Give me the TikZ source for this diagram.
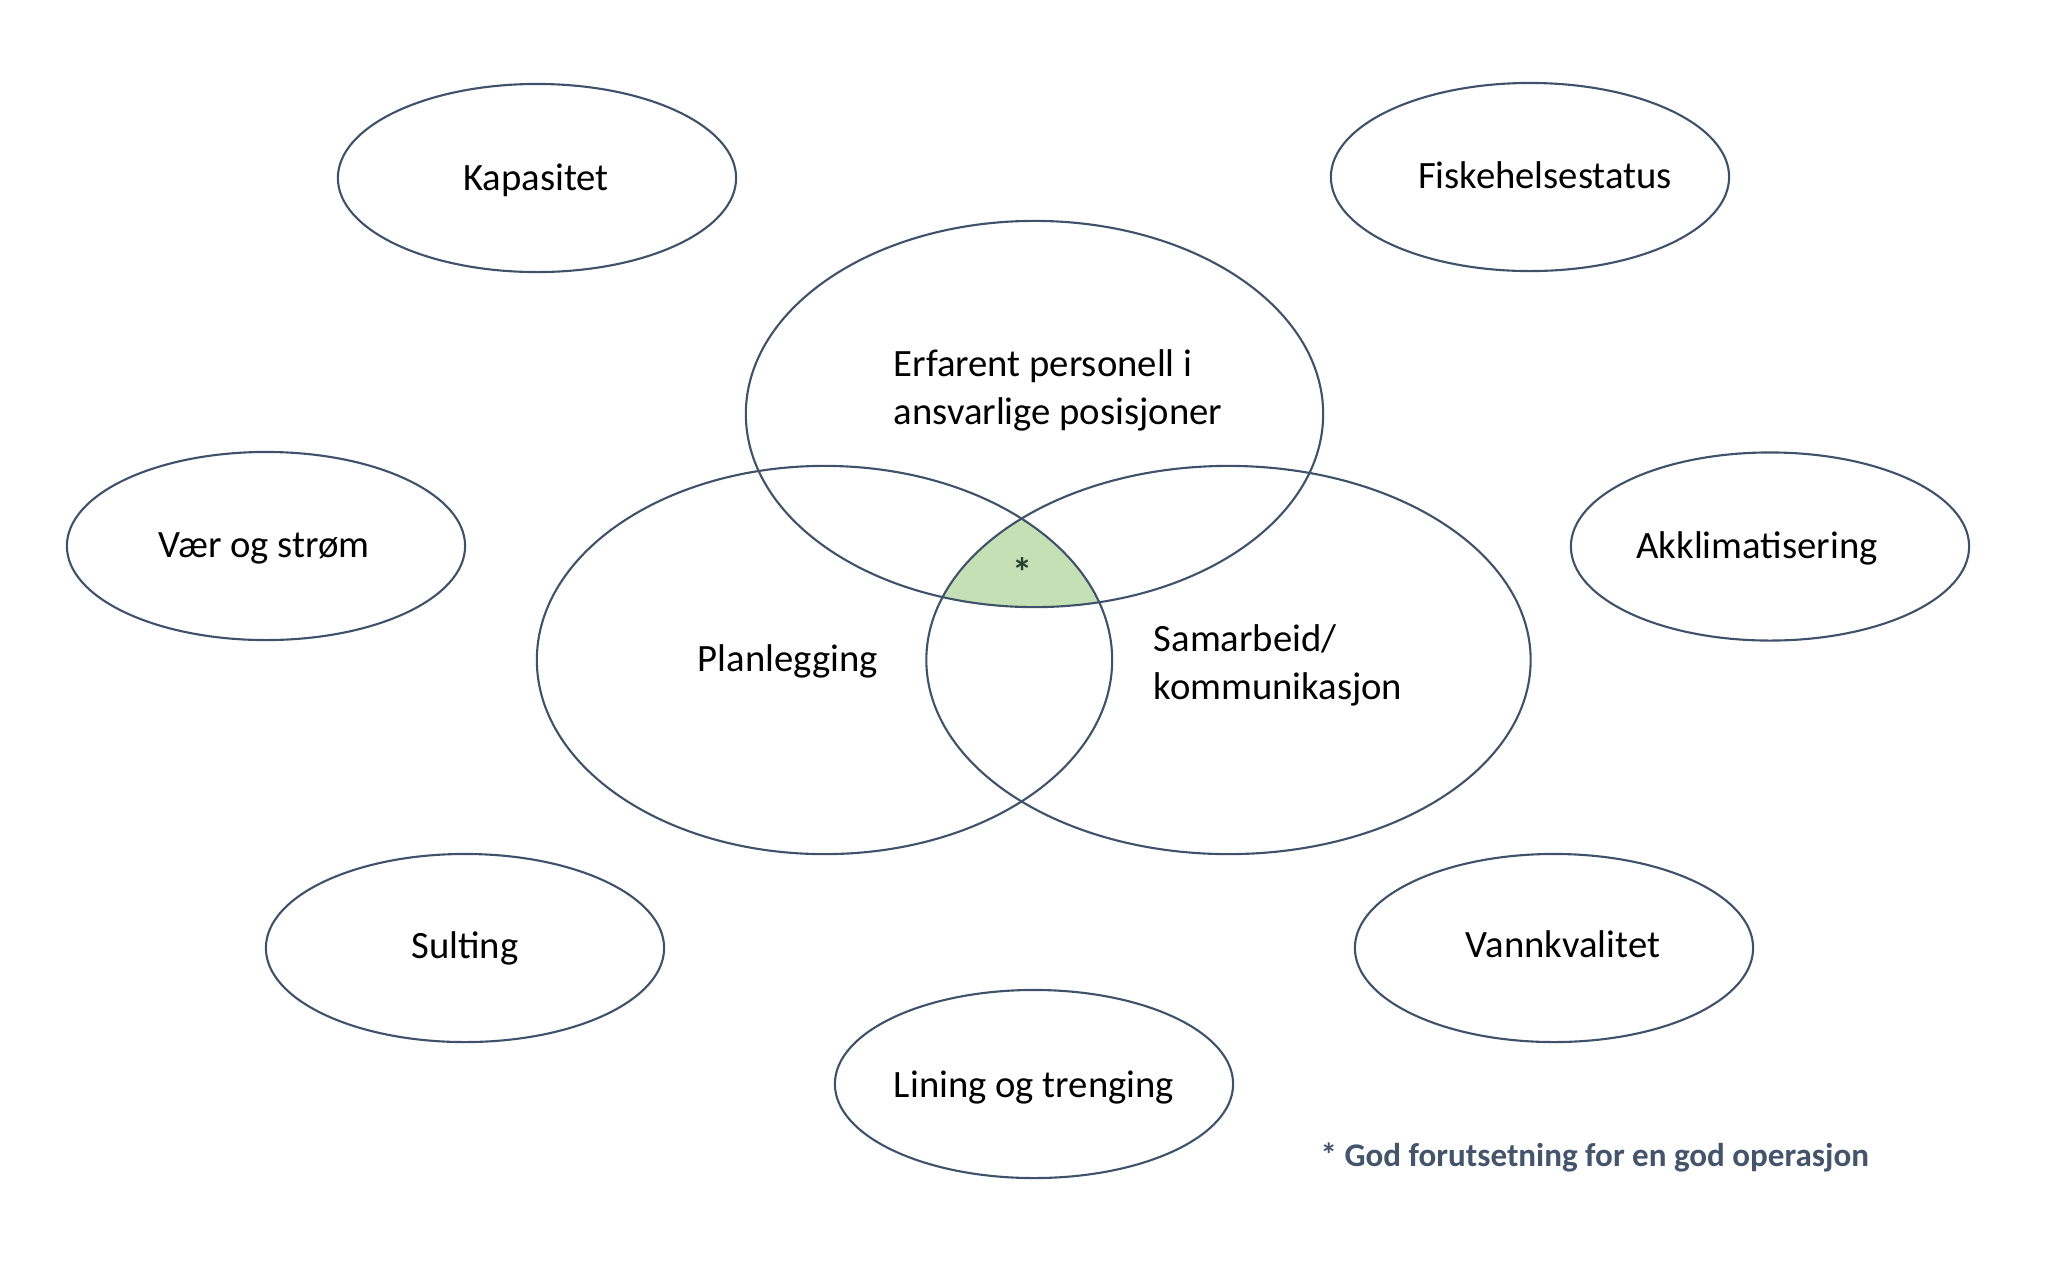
\documentclass[tikz,border=0pt]{standalone}
\usepackage{fontspec}
\setmainfont{Carlito}
\usetikzlibrary{shapes.geometric}
\definecolor{edge}{RGB}{64,82,106}
\definecolor{venngreen}{RGB}{197,224,180}
\definecolor{notecol}{RGB}{68,84,106}
\definecolor{starcol}{RGB}{38,66,46}
\begin{document}
\begin{tikzpicture}[x=0.01cm,y=-0.01cm,
  oval/.style={ellipse, draw=edge, line width=0.6pt, inner sep=0pt, minimum width=3.98cm, minimum height=1.88cm},
  big/.style={ellipse, draw=edge, line width=0.6pt, inner sep=0pt},
  lbl/.style={font=\fontsize{11}{13.6}\selectfont, inner sep=0pt, text=black},
  ]
\useasboundingbox[fill=white] (0,0) rectangle (2048,1263);
% green intersection of the three big ellipses
\begin{scope}
  \clip (1034.5,414) ellipse [x radius=2.885cm, y radius=1.93cm];
  \clip (824.5,660) ellipse [x radius=2.875cm, y radius=1.94cm];
  \fill[venngreen] (1228.5,660) ellipse [x radius=3.02cm, y radius=1.94cm];
\end{scope}
% big ellipses
\node[big, minimum width=5.77cm, minimum height=3.86cm] (exp) at (1034.5,414) {};
\node[big, minimum width=5.75cm, minimum height=3.88cm] (plan) at (824.5,660) {};
\node[big, minimum width=6.04cm, minimum height=3.88cm] (sam) at (1228.5,660) {};
% small ellipses
\node[oval] (kap) at (537,178) {};
\node[oval] (fisk) at (1530,177) {};
\node[oval] (vaer) at (266,546) {};
\node[oval] (akk) at (1770,546.5) {};
\node[oval] (sult) at (465,948) {};
\node[oval] (vann) at (1554,948) {};
\node[oval] (lin) at (1034,1084) {};
% labels
\node[lbl] (tkap) at (536,180) {Kapasitet};
\node[lbl] (tfisk) at (1545,175) {Fiskehelsestatus};
\node[lbl] (tvaer) at (264,548) {Vær og strøm};
\node[lbl] (takk) at (1757,548) {Akklimatisering};
\node[lbl] (tsult) at (465,948) {Sulting};
\node[lbl] (tvann) at (1563,944) {Vannkvalitet};
\node[lbl] (tlin) at (1034,1087) {Lining og trenging};
\node[lbl, align=left, anchor=west] (texp) at (893,390) {Erfarent personell i\\ansvarlige posisjoner};
\node[lbl] (tplan) at (788,661) {Planlegging};
\node[lbl, align=left, anchor=west] (tsam) at (1153,665) {Samarbeid/\\kommunikasjon};
\node[lbl, font=\fontsize{11.5}{13.6}\selectfont\bfseries, text=starcol] (star) at (1023,572) {*};
\node[font=\fontsize{9.4}{11}\selectfont\bfseries, text=notecol, anchor=west, inner sep=0pt] (note) at (1320,1157) {* God forutsetning for en god operasjon};
\end{tikzpicture}
\end{document}
